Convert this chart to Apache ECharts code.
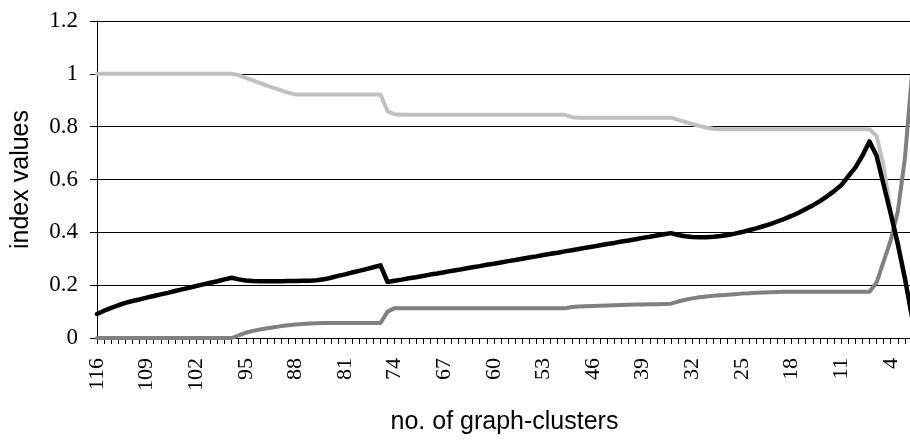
<!DOCTYPE html>
<html>
<head>
<meta charset="utf-8">
<script src="https://cdn.jsdelivr.net/npm/echarts@6/dist/echarts.min.js"></script>
<style>
html,body{margin:0;padding:0;background:#fff;}
#chart{width:910px;height:440px;}
</style>
</head>
<body>
<div id="chart"></div>
<script>
var categories = [
  '116','115','114','113','112','111','110','109','108','107',
  '106','105','104','103','102','101','100','99','98','97',
  '96','95','94','93','92','91','90','89','88','87',
  '86','85','84','83','82','81','80','79','78','77',
  '76','75','74','73','72','71','70','69','68','67',
  '66','65','64','63','62','61','60','59','58','57',
  '56','55','54','53','52','51','50','49','48','47',
  '46','45','44','43','42','41','40','39','38','37',
  '36','35','34','33','32','31','30','29','28','27',
  '26','25','24','23','22','21','20','19','18','17',
  '16','15','14','13','12','11','10','9','8','7',
  '6','5','4','3','2','1'
];

var lightSeries = [
  1,1,1,1,1,1,1,1,1,1,
  1,1,1,1,1,1,1,1,1,1,
  0.995,0.985,0.975,0.965,0.955,0.946,0.937,0.929,0.922,0.922,
  0.922,0.922,0.922,0.922,0.922,0.922,0.922,0.922,0.922,0.922,
  0.922,0.858,0.847,0.845,0.845,0.845,0.845,0.845,0.845,0.845,
  0.845,0.845,0.845,0.845,0.845,0.845,0.845,0.845,0.845,0.845,
  0.845,0.845,0.845,0.845,0.845,0.845,0.845,0.836,0.834,0.834,
  0.834,0.834,0.834,0.834,0.834,0.834,0.834,0.834,0.834,0.834,
  0.834,0.834,0.826,0.818,0.810,0.803,0.796,0.792,0.790,0.790,
  0.79,0.79,0.79,0.79,0.79,0.79,0.79,0.79,0.79,0.79,
  0.79,0.79,0.79,0.79,0.79,0.79,0.79,0.79,0.79,0.79,
  0.765,0.65,0.48,0.36,0.23,0.08
];

var darkSeries = [
  0,0,0,0,0,0,0,0,0,0,
  0,0,0,0,0,0,0,0,0,0,
  0.010,0.020,0.027,0.032,0.037,0.041,0.045,0.048,0.051,0.053,
  0.055,0.056,0.057,0.057,0.057,0.057,0.057,0.057,0.057,0.057,
  0.057,0.100,0.113,0.113,0.113,0.113,0.113,0.113,0.113,0.113,
  0.113,0.113,0.113,0.113,0.113,0.113,0.113,0.113,0.113,0.113,
  0.113,0.113,0.113,0.113,0.113,0.113,0.113,0.117,0.119,0.120,
  0.121,0.122,0.123,0.124,0.125,0.126,0.127,0.127,0.128,0.128,
  0.129,0.130,0.138,0.145,0.150,0.154,0.157,0.160,0.162,0.164,
  0.166,0.168,0.169,0.171,0.172,0.173,0.174,0.175,0.175,0.175,
  0.175,0.175,0.175,0.175,0.175,0.175,0.175,0.175,0.175,0.175,
  0.21,0.29,0.37,0.48,0.68,1.0
];

var blackSeries = [
  0.091,0.103,0.114,0.124,0.133,0.140,0.146,0.153,0.159,0.165,
  0.171,0.178,0.184,0.190,0.197,0.203,0.209,0.215,0.222,0.228,
  0.222,0.218,0.216,0.215,0.215,0.215,0.215,0.216,0.216,0.217,
  0.217,0.219,0.222,0.228,0.235,0.241,0.248,0.254,0.261,0.268,
  0.275,0.212,0.217,0.221,0.226,0.230,0.235,0.240,0.244,0.249,
  0.254,0.258,0.263,0.268,0.272,0.277,0.281,0.286,0.291,0.295,
  0.300,0.305,0.309,0.314,0.319,0.323,0.328,0.332,0.337,0.342,
  0.346,0.351,0.356,0.360,0.365,0.369,0.374,0.379,0.383,0.388,
  0.393,0.397,0.390,0.385,0.382,0.381,0.381,0.383,0.386,0.390,
  0.395,0.401,0.408,0.415,0.423,0.431,0.441,0.451,0.462,0.474,
  0.488,0.502,0.518,0.536,0.556,0.578,0.612,0.645,0.690,0.744,
  0.690,0.580,0.470,0.355,0.225,0.080
];

var chart = echarts.init(document.getElementById('chart'), null, {renderer: 'canvas'});
var serif = 'Liberation Serif';
var sans = 'Liberation Sans';
chart.setOption({
  animation: false,
  backgroundColor: '#ffffff',
  grid: {left: 97, right: -2, top: 21, bottom: 102, containLabel: false, outerBoundsMode: 'none'},
  xAxis: {
    type: 'category',
    data: categories,
    boundaryGap: false,
    axisLine: {show: true, lineStyle: {color: '#000', width: 1}},
    axisTick: {show: true, interval: 0, length: 6, inside: false, lineStyle: {color: '#000', width: 1}},
    axisLabel: {interval: 6, rotate: 90, margin: 20, fontFamily: serif, fontSize: 22, color: '#000', hideOverlap: false},
    splitLine: {show: false},
    name: 'no. of graph-clusters',
    nameLocation: 'middle',
    nameGap: 72,
    nameTextStyle: {fontFamily: sans, fontSize: 25, color: '#000'}
  },
  yAxis: {
    type: 'value',
    min: 0, max: 1.2, interval: 0.2,
    axisLine: {show: true, lineStyle: {color: '#000', width: 1}},
    axisTick: {show: true, length: 7, inside: false, lineStyle: {color: '#000', width: 1}},
    axisLabel: {margin: 19, fontFamily: serif, fontSize: 23, color: '#000'},
    splitLine: {show: true, lineStyle: {color: '#000', width: 1}},
    name: 'index values',
    nameLocation: 'middle',
    nameGap: 63,
    nameTextStyle: {fontFamily: sans, fontSize: 25, color: '#000'}
  },
  series: [
    {type: 'line', data: lightSeries, symbol: 'none', smooth: false, z: 2,
     lineStyle: {color: '#c0c0c0', width: 4, join: 'round', cap: 'round'}},
    {type: 'line', data: darkSeries, symbol: 'none', smooth: false, z: 3,
     lineStyle: {color: '#808080', width: 4, join: 'round', cap: 'round'}},
    {type: 'line', data: blackSeries, symbol: 'none', smooth: false, z: 4,
     lineStyle: {color: '#000000', width: 4.5, join: 'round', cap: 'round'}}
  ]
});
</script>
</body>
</html>
